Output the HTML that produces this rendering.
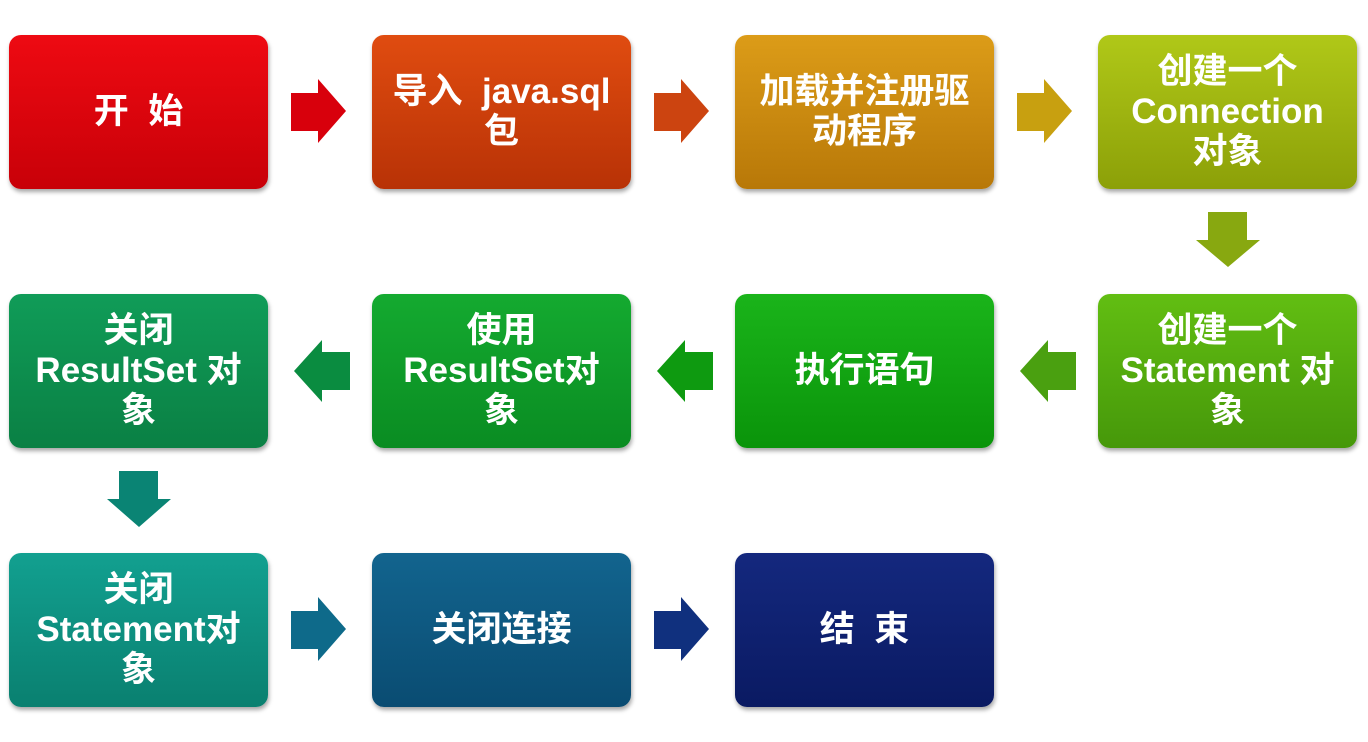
<!DOCTYPE html>
<html><head><meta charset="utf-8"><style>
body{margin:0;width:1368px;height:742px;background:#fff;position:relative;overflow:hidden;font-family:"Liberation Sans","Noto Sans CJK SC",sans-serif}
.b{position:absolute;width:259px;height:154px;border-radius:12px;display:flex;align-items:center;justify-content:center;text-align:center;color:#fff;font-weight:bold;font-size:35px;line-height:40px;box-shadow:1px 3px 4px rgba(0,0,0,.35);box-sizing:border-box;white-space:nowrap}
svg{position:absolute;left:0;top:0}
</style></head><body>
<div class="b" style="left:9px;top:35px;background:linear-gradient(#ee0a12,#c80008)">开&nbsp; 始</div>
<div class="b" style="left:372px;top:35px;background:linear-gradient(#e04c10,#b83206)">导入&nbsp; java.sql<br>包</div>
<div class="b" style="left:735px;top:35px;background:linear-gradient(#dc9c18,#b87808)">加载并注册驱<br>动程序</div>
<div class="b" style="left:1098px;top:35px;background:linear-gradient(#b0c818,#8ca008)">创建一个<br>Connection<br>对象</div>

<div class="b" style="left:1098px;top:294px;background:linear-gradient(#62be12,#46980a)">创建一个<br>Statement 对<br>象</div>
<div class="b" style="left:735px;top:294px;background:linear-gradient(#1ab41a,#0a940a)">执行语句</div>
<div class="b" style="left:372px;top:294px;background:linear-gradient(#14aa30,#0a8c22)">使用<br>ResultSet对<br>象</div>
<div class="b" style="left:9px;top:294px;background:linear-gradient(#109c58,#0a8044)">关闭<br>ResultSet 对<br>象</div>

<div class="b" style="left:9px;top:553px;background:linear-gradient(#12a090,#0a8070)">关闭<br>Statement对<br>象</div>
<div class="b" style="left:372px;top:553px;background:linear-gradient(#12648e,#0a4c72)">关闭连接</div>
<div class="b" style="left:735px;top:553px;background:linear-gradient(#14287e,#0a1a62)">结&nbsp; 束</div>

<svg width="1368" height="742">
<g stroke="none">
<polygon points="291,93 318,93 318,79 346,111 318,143 318,131 291,131" fill="#d8000c"/>
<polygon points="654,93 681,93 681,79 709,111 681,143 681,131 654,131" fill="#cc4410"/>
<polygon points="1017,93 1044,93 1044,79 1072,111 1044,143 1044,131 1017,131" fill="#c8a010"/>
<polygon points="1208,212 1247,212 1247,240 1260,240 1228,267 1196,240 1208,240" fill="#88a810"/>
<polygon points="1076,352 1048,352 1048,340 1020,371 1048,402 1048,390 1076,390" fill="#4aa010"/>
<polygon points="713,352 685,352 685,340 657,371 685,402 685,390 713,390" fill="#0e9a10"/>
<polygon points="350,352 322,352 322,340 294,371 322,402 322,390 350,390" fill="#0a8c40"/>
<polygon points="119,471 158,471 158,499 171,499 139,527 107,499 119,499" fill="#0a8474"/>
<polygon points="291,611 318,611 318,597 346,629 318,661 318,649 291,649" fill="#0e6a8a"/>
<polygon points="654,611 681,611 681,597 709,629 681,661 681,649 654,649" fill="#10307e"/>
</g>
</svg>
</body></html>
